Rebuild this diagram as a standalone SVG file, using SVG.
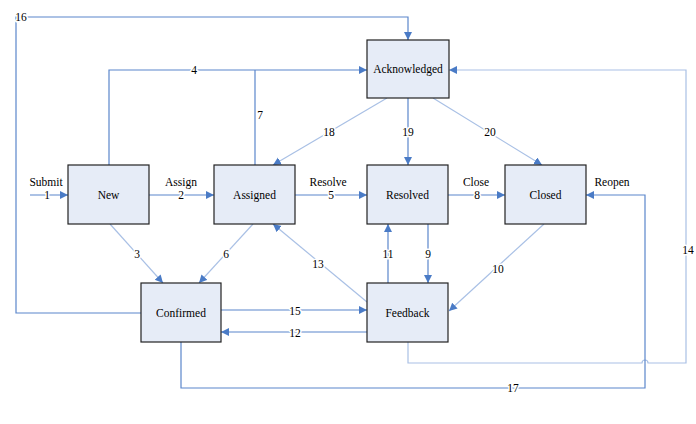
<svg xmlns="http://www.w3.org/2000/svg" width="696" height="424" viewBox="0 0 696 424">
<style>
.node rect{fill:#E6ECF7;stroke:#222;stroke-width:1.2}
.node text{font-family:'Liberation Serif','Times New Roman',Tinos,'DejaVu Serif',serif;font-size:11.5px;text-anchor:middle;fill:#000}
.c{fill:none;stroke:#5B86CB;stroke-width:1.2}
.l{fill:none;stroke:#A9C0E5;stroke-width:1.2}
.lbl{font-family:'Liberation Serif','Times New Roman',Tinos,'DejaVu Serif',serif;font-size:11.5px;text-anchor:middle;fill:#000;stroke:#fff;stroke-width:3px;paint-order:stroke;stroke-linejoin:round}
</style>
<defs>
<marker id="a" markerUnits="userSpaceOnUse" markerWidth="9" markerHeight="9" refX="8" refY="4" orient="auto"><path d="M0,0 L8,4 L0,8 z" fill="#4A7BC6"/></marker>
</defs>
<rect width="696" height="424" fill="#fff"/>
<g id="connectors">
<path id="e16" class="c" d="M141,313 H16 V17 H408 V40" marker-end="url(#a)"/>
<path id="e4" class="c" d="M109,165 V70 H367" marker-end="url(#a)"/>
<path id="e7" class="c" d="M255,165 V70"/>
<path id="e14" class="l" d="M408,342 V363 H642 a3,3 0 0 1 6,0 H686 V70 H449" marker-end="url(#a)"/>
<path id="e17" class="c" d="M181,342 V388 H645 V195 H586" marker-end="url(#a)"/>
<path id="e18" class="l" d="M387,98 L273,165" marker-end="url(#a)"/>
<path id="e19" class="c" d="M408,98 V165" marker-end="url(#a)"/>
<path id="e20" class="l" d="M433,98 L542,165" marker-end="url(#a)"/>
<path id="e1" class="c" d="M30,195 H68" marker-end="url(#a)"/>
<path id="e2" class="c" d="M149,195 H214" marker-end="url(#a)"/>
<path id="e5" class="c" d="M295,195 H367" marker-end="url(#a)"/>
<path id="e8" class="c" d="M448,195 H505" marker-end="url(#a)"/>
<path id="e3" class="l" d="M110,224 L163,283" marker-end="url(#a)"/>
<path id="e6" class="l" d="M253,224 L199,283" marker-end="url(#a)"/>
<path id="e13" class="l" d="M367,302 L273,224" marker-end="url(#a)"/>
<path id="e11" class="c" d="M388,283 V224" marker-end="url(#a)"/>
<path id="e9" class="c" d="M428,224 V283" marker-end="url(#a)"/>
<path id="e10" class="l" d="M544,224 L449,311" marker-end="url(#a)"/>
<path id="e15" class="c" d="M221,310 H367" marker-end="url(#a)"/>
<path id="e12" class="c" d="M367,332 H221" marker-end="url(#a)"/>
<text class="lbl" x="21" y="21">16</text>
<text class="lbl" x="194" y="74">4</text>
<text class="lbl" x="260" y="119">7</text>
<text class="lbl" x="688" y="254">14</text>
<text class="lbl" x="513" y="392">17</text>
<text class="lbl" x="612" y="186">Reopen</text>
<text class="lbl" x="329" y="136">18</text>
<text class="lbl" x="408" y="136">19</text>
<text class="lbl" x="490" y="136">20</text>
<text class="lbl" x="46" y="186">Submit</text>
<text class="lbl" x="47" y="199">1</text>
<text class="lbl" x="181" y="186">Assign</text>
<text class="lbl" x="181" y="199">2</text>
<text class="lbl" x="328" y="186">Resolve</text>
<text class="lbl" x="331" y="199">5</text>
<text class="lbl" x="476" y="186">Close</text>
<text class="lbl" x="477" y="199">8</text>
<text class="lbl" x="137" y="258">3</text>
<text class="lbl" x="226" y="258">6</text>
<text class="lbl" x="318" y="268">13</text>
<text class="lbl" x="388" y="258">11</text>
<text class="lbl" x="428" y="258">9</text>
<text class="lbl" x="498" y="273">10</text>
<text class="lbl" x="295" y="315">15</text>
<text class="lbl" x="295" y="337">12</text>
</g>
<g id="acknowledged" class="node"><rect x="367" y="40" width="82" height="58"/><text x="408" y="73">Acknowledged</text></g>
<g id="new" class="node"><rect x="68" y="165" width="81" height="59"/><text x="108.5" y="199">New</text></g>
<g id="assigned" class="node"><rect x="214" y="165" width="81" height="59"/><text x="254.5" y="199">Assigned</text></g>
<g id="resolved" class="node"><rect x="367" y="165" width="81" height="59"/><text x="407.5" y="199">Resolved</text></g>
<g id="closed" class="node"><rect x="505" y="165" width="81" height="59"/><text x="545.5" y="199">Closed</text></g>
<g id="confirmed" class="node"><rect x="141" y="283" width="80" height="59"/><text x="181" y="317">Confirmed</text></g>
<g id="feedback" class="node"><rect x="367" y="283" width="81" height="59"/><text x="407.5" y="317">Feedback</text></g>
</svg>
